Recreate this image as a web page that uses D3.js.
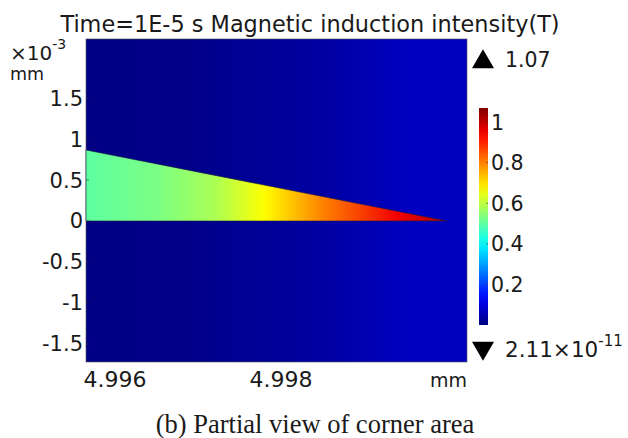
<!DOCTYPE html>
<html>
<head>
<meta charset="utf-8">
<script src="https://cdn.jsdelivr.net/npm/d3@7"></script>
<style>
    body { margin: 0; background: #fff; }
    text { font-family: "DejaVu Sans", sans-serif; fill: #1a1a1a; }
</style>
</head>
<body>
<svg id="chart" width="628" height="438"></svg>
<script>
// Axis ticks (x in mm, y in 1e-3 mm)
const xTicks = [4.996, 4.998];
const yTicks = [1.5, 1, 0.5, 0, -0.5, -1, -1.5];
const colorTicks = [0.2, 0.4, 0.6, 0.8, 1];

// Extent of the plotted window
const xDomain = [4.99565, 5.00024];
const yDomain = [-1.72, 2.22];

// Field range (T)
const fieldMax = 1.07;
const fieldMinLabel = '2.11×10';

// Wedge geometry (tip at 5 mm, height 0.866e-3 mm at left edge)
const wedgeX = [4.99565, 4.99565, 5.0];
const wedgeY = [0, 0.866, 0];

// Field sampled along the wedge
const wedgeFieldX = [4.99565, 4.9965, 4.9972, 4.9978, 4.9985, 4.9994, 5.0000];
const wedgeFieldV = [0.50, 0.53, 0.58, 0.67, 0.80, 0.95, 1.02];

// Background field sampled across the window
const bgFieldX = [4.99565, 4.9970, 4.9985, 4.9996, 5.00024];
const bgFieldV = [0.005, 0.012, 0.035, 0.07, 0.065];

const svg = d3.select('#chart');

const x = d3.scaleLinear().domain(xDomain).range([86, 467]);
const y = d3.scaleLinear().domain(yDomain).range([362, 39]);
const c = d3.scaleLinear().domain([0, fieldMax]).range([325, 108]);

// jet colour map
function jet(v) {
    const t = Math.max(0, Math.min(1, v / fieldMax));
    const f = k => Math.max(0, Math.min(1, 1.5 - Math.abs(4 * t - k)));
    return d3.rgb(f(3) * 255, f(2) * 255, f(1) * 255).formatHex();
}

const defs = svg.append('defs');

function addGradient(id, xs, vs, scale, horizontal) {
    const g = defs.append('linearGradient')
        .attr('id', id)
        .attr('gradientUnits', 'userSpaceOnUse');
    if (horizontal) {
        g.attr('x1', scale(xs[0])).attr('x2', scale(xs[xs.length - 1]))
         .attr('y1', 0).attr('y2', 0);
    } else {
        g.attr('x1', 0).attr('x2', 0)
         .attr('y1', scale(xs[0])).attr('y2', scale(xs[xs.length - 1]));
    }
    const span = scale(xs[xs.length - 1]) - scale(xs[0]);
    xs.forEach((xv, i) => {
        g.append('stop')
            .attr('offset', (scale(xv) - scale(xs[0])) / span)
            .attr('stop-color', jet(vs[i]));
    });
}

addGradient('bgGrad', bgFieldX, bgFieldV, x, true);
addGradient('wedgeGrad', wedgeFieldX, wedgeFieldV, x, true);
const cbVals = d3.range(0, 21).map(i => fieldMax * i / 20);
addGradient('cbGrad', cbVals, cbVals, c, false);

// Plot background
svg.append('rect')
    .attr('x', x(xDomain[0]))
    .attr('y', y(yDomain[1]))
    .attr('width', x(xDomain[1]) - x(xDomain[0]))
    .attr('height', y(yDomain[0]) - y(yDomain[1]))
    .attr('fill', 'url(#bgGrad)')
    .attr('stroke', '#555')
    .attr('stroke-width', 0.6);

// Wedge
svg.append('path')
    .attr('d', d3.line()(wedgeX.map((xv, i) => [x(xv), y(wedgeY[i])])) + 'Z')
    .attr('fill', 'url(#wedgeGrad)')
    .attr('stroke', '#1a1a40')
    .attr('stroke-width', 0.6);

// Axes tick labels
const yAxis = svg.append('g');
yTicks.forEach(t => {
    yAxis.append('text')
        .attr('x', 83)
        .attr('y', y(t) + 7.5)
        .attr('text-anchor', 'end')
        .attr('font-size', 21)
        .text(t);
    yAxis.append('line')
        .attr('x1', x(xDomain[0])).attr('x2', x(xDomain[0]) + 3)
        .attr('y1', y(t)).attr('y2', y(t))
        .attr('stroke', '#333').attr('stroke-width', 0.6);
});

const xAxis = svg.append('g');
xTicks.forEach(t => {
    xAxis.append('text')
        .attr('x', x(t))
        .attr('y', 387)
        .attr('text-anchor', 'middle')
        .attr('font-size', 22)
        .text(t.toFixed(3));
});

svg.append('text')
    .attr('x', 467).attr('y', 387)
    .attr('text-anchor', 'end')
    .attr('font-size', 19)
    .text('mm');

// y unit
const yUnit = svg.append('text').attr('x', 10).attr('y', 60).attr('font-size', 20);
yUnit.append('tspan').text('×10');
yUnit.append('tspan').attr('dy', -11).attr('font-size', 14).text('-3');
svg.append('text').attr('x', 10).attr('y', 80).attr('font-size', 17.5).text('mm');

// Title
svg.append('text')
    .attr('x', 310).attr('y', 32)
    .attr('text-anchor', 'middle')
    .attr('font-size', 22.4)
    .text('Time=1E-5 s Magnetic induction intensity(T)');

// Colour bar
svg.append('rect')
    .attr('x', 479).attr('y', c(fieldMax))
    .attr('width', 9).attr('height', c(0) - c(fieldMax))
    .attr('fill', 'url(#cbGrad)');

colorTicks.forEach(t => {
    svg.append('line')
        .attr('x1', 486).attr('x2', 488)
        .attr('y1', c(t)).attr('y2', c(t))
        .attr('stroke', '#333').attr('stroke-width', 0.6);
    svg.append('text')
        .attr('x', 491)
        .attr('y', c(t) + 7.5)
        .attr('font-size', 20.5)
        .text(t);
});

// Max / min markers
svg.append('path')
    .attr('d', d3.symbol(d3.symbolTriangle, 210)())
    .attr('transform', 'translate(483,62)')
    .attr('fill', '#000');
svg.append('text')
    .attr('x', 505).attr('y', 67)
    .attr('font-size', 20.5)
    .text(fieldMax);

svg.append('path')
    .attr('d', d3.symbol(d3.symbolTriangle, 210)())
    .attr('transform', 'translate(483,348) rotate(180)')
    .attr('fill', '#000');
const minText = svg.append('text').attr('x', 505).attr('y', 357).attr('font-size', 21.5);
minText.append('tspan').text(fieldMinLabel);
minText.append('tspan').attr('dy', -11).attr('font-size', 15).text('-11');

// Caption
svg.append('text')
    .attr('x', 315).attr('y', 433)
    .attr('text-anchor', 'middle')
    .style('font-family', '"Liberation Serif", "Times New Roman", serif')
    .attr('font-size', 26.5)
    .text('(b) Partial view of corner area');
</script>
</body>
</html>
